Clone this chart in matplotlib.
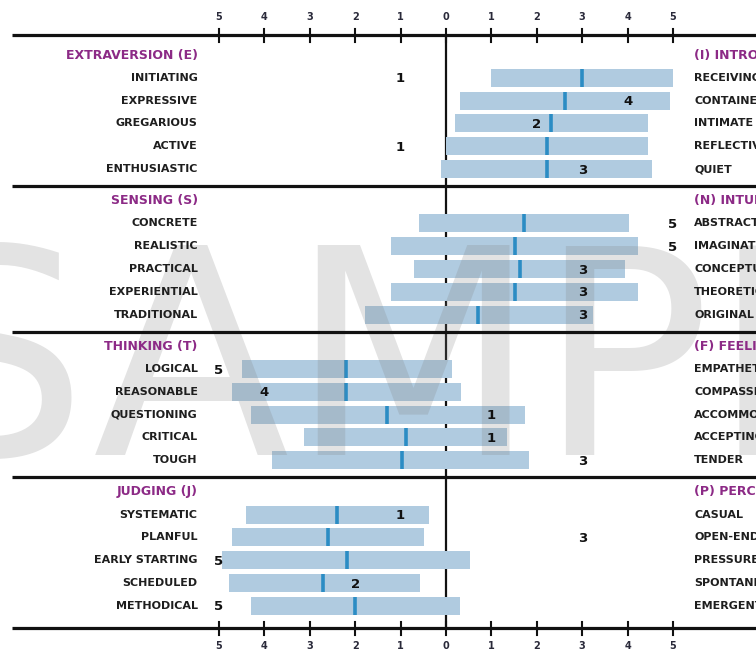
import matplotlib
matplotlib.use("Agg")
import matplotlib.pyplot as plt

# ------------------------------------------------------------------ dados
left_headers = ["EXTRAVERSION (E)", "SENSING (S)", "THINKING (T)", "JUDGING (J)"]
right_headers = ["(I) INTROVERSION", "(N) INTUITION", "(F) FEELING", "(P) PERCEIVING"]
left_facets = [
    ["INITIATING", "EXPRESSIVE", "GREGARIOUS", "ACTIVE", "ENTHUSIASTIC"],
    ["CONCRETE", "REALISTIC", "PRACTICAL", "EXPERIENTIAL", "TRADITIONAL"],
    ["LOGICAL", "REASONABLE", "QUESTIONING", "CRITICAL", "TOUGH"],
    ["SYSTEMATIC", "PLANFUL", "EARLY STARTING", "SCHEDULED", "METHODICAL"],
]
right_facets = [
    ["RECEIVING", "CONTAINED", "INTIMATE", "REFLECTIVE", "QUIET"],
    ["ABSTRACT", "IMAGINATIVE", "CONCEPTUAL", "THEORETICAL", "ORIGINAL"],
    ["EMPATHETIC", "COMPASSIONATE", "ACCOMMODATING", "ACCEPTING", "TENDER"],
    ["CASUAL", "OPEN-ENDED", "PRESSURE-PROMPTED", "SPONTANEOUS", "EMERGENT"],
]
# negativo = polo da esquerda (E/S/T/J), positivo = polo da direita (I/N/F/P)
range_lo = [
    [1.0, 0.31, 0.2, 0.01, -0.12],
    [-0.59, -1.22, -0.7, -1.22, -1.78],
    [-4.5, -4.71, -4.3, -3.12, -3.83],
    [-4.41, -4.71, -4.93, -4.79, -4.3],
]
range_hi = [
    [5.0, 4.93, 4.44, 4.44, 4.54],
    [4.02, 4.24, 3.94, 4.24, 3.23],
    [0.14, 0.33, 1.73, 1.34, 1.82],
    [-0.37, -0.48, 0.53, -0.57, 0.31],
]
median = [
    [3.0, 2.62, 2.31, 2.22, 2.22],
    [1.72, 1.51, 1.62, 1.51, 0.70],
    [-2.21, -2.21, -1.29, -0.88, -0.98],
    [-2.39, -2.59, -2.19, -2.70, -2.0],
]
score = [
    [-1, 4, 2, -1, 3],
    [5, 5, 3, 3, 3],
    [-5, -4, 1, 1, 3],
    [-1, 3, -5, -2, -5],
]
ticks = [-5, -4, -3, -2, -1, 0, 1, 2, 3, 4, 5]
tick_labels = [str(abs(t)) for t in ticks]

# ------------------------------------------------------------------ estilo
BAR = "#b0cbe0"
MED = "#2b8cc4"
ROXO = "#8c2a86"
TXT = "#1e1e1e"
FONT = "DejaVu Sans"

W, H = 756, 653
X0, PX = 446, 45.4          # pixel do zero e pixels por unidade
fig = plt.figure(figsize=(W / 100, H / 100), dpi=100)
ax = fig.add_axes([0, 0, 1, 1])
ax.set_xlim(-X0 / PX, (W - X0) / PX)
ax.set_ylim(H, 0)
ax.axis("off")

TOP, HEAD0, SEC, ROW, BAR_H = 35, 55, 145.6, 22.8, 18
x_line0 = (12 - X0) / PX
x_line1 = (W - X0) / PX
lab_l, lab_r = -5.47, 5.47
bottom = HEAD0 + 3 * SEC + 136

# linhas horizontais (eixos e separadores)
for y in [TOP, bottom] + [HEAD0 + k * SEC + 131 for k in range(3)]:
    ax.plot([x_line0, x_line1], [y, y], color="#111", lw=2.3, solid_capstyle="butt", zorder=4)
ax.plot([0, 0], [TOP, bottom], color="#111", lw=1.6, zorder=1)

for y_axis, y_lab in [(TOP, 17), (bottom, 646)]:
    for t, lab in zip(ticks, tick_labels):
        ax.plot([t, t], [y_axis - 6, y_axis + 7], color="#111", lw=1.5, zorder=4)
        ax.text(t, y_lab, lab, ha="center", va="center", fontsize=7,
                fontweight="bold", color="#2a2a3a", family=FONT)

for k in range(4):
    yh = HEAD0 + k * SEC
    ax.text(lab_l, yh, left_headers[k], ha="right", va="center", fontsize=9,
            fontweight="bold", color=ROXO, family=FONT, zorder=5)
    ax.text(lab_r, yh, right_headers[k], ha="left", va="center", fontsize=9,
            fontweight="bold", color=ROXO, family=FONT, zorder=5)
    ys = [yh + ROW * (i + 1) for i in range(5)]
    lo, hi = range_lo[k], range_hi[k]
    ax.barh(ys, [b - a for a, b in zip(lo, hi)], left=lo, height=BAR_H,
            color=BAR, zorder=2)
    for y, m, s, lf, rf in zip(ys, median[k], score[k], left_facets[k], right_facets[k]):
        ax.plot([m, m], [y - BAR_H / 2, y + BAR_H / 2], color=MED, lw=2.6,
                solid_capstyle="butt", zorder=2.5)
        ax.text(s, y + 1, str(abs(s)), ha="center", va="center", fontsize=9.5,
                fontweight="bold", color="#111", family=FONT, zorder=5)
        ax.text(lab_l, y, lf, ha="right", va="center", fontsize=8,
                fontweight="bold", color=TXT, family=FONT, zorder=5)
        ax.text(lab_r, y, rf, ha="left", va="center", fontsize=8,
                fontweight="bold", color=TXT, family=FONT, zorder=5)

# marca d'agua
ax.text((-95 - X0) / PX, 455, "SAMPLE", ha="left", va="baseline", fontsize=207,
        color="#808080", alpha=0.22, family=FONT, zorder=3)

fig.savefig("out.png", dpi=100, facecolor="white")
